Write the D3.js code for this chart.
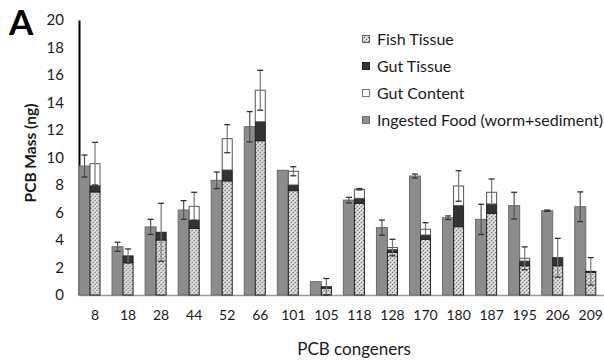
<!DOCTYPE html>
<html>
<head>
<meta charset="utf-8">
<script src="https://cdn.jsdelivr.net/npm/d3@7"></script>
<style>
  body { margin: 0; background: #fff; }
  svg { display: block; font-family: Lato, "Open Sans", sans-serif; }
</style>
</head>
<body>
<svg width="604" height="362"></svg>
<script>
// PCB mass per congener (ng)

var congeners = ["8", "18", "28", "44", "52", "66", "101", "105", "118", "128", "170", "180", "187", "195", "206", "209"];

// ingested food (worm+sediment) bar and its error
var food    = [9.38, 3.51, 4.95, 6.18, 8.34, 12.24, 9.07, 0.97, 6.9, 4.9, 8.65, 5.62, 5.5, 6.5, 6.13, 6.42];
var foodErr = [0.8, 0.33, 0.55, 0.68, 0.6, 1.1, 0, 0, 0.2, 0.55, 0.15, 0.13, 1.1, 0.97, 0.05, 1.08];

// stacked bar: fish tissue + gut tissue + gut content
var fishTissue = [7.5, 2.35, 4.0, 4.85, 8.3, 11.22, 7.59, 0.5, 6.67, 3.1, 4.05, 4.97, 5.94, 2.13, 2.13, 1.65];
var gutTissue  = [0.45, 0.49, 0.56, 0.6, 0.79, 1.38, 0.41, 0.1, 0.36, 0.2, 0.31, 1.53, 0.68, 0.34, 0.58, 0.07];
var gutContent = [1.6, 0, 0, 1.0, 2.28, 2.29, 1.0, 0, 0.66, 0.15, 0.42, 1.43, 0.85, 0.2, 0, 0];
var totalErr   = [1.55, 0.51, 2.11, 1.02, 1.02, 1.45, 0.33, 0.6, 0.05, 0.6, 0.48, 1.11, 0.97, 0.83, 1.41, 1.0];

var yTicks = [0, 2, 4, 6, 8, 10, 12, 14, 16, 18, 20];

var legendLabels = ["Fish Tissue", "Gut Tissue", "Gut Content", "Ingested Food (worm+sediment)"];

////////////////////////////// SETUP //////////////////////////////

var svg = d3.select("svg");

// speckled fill used for fish tissue
var defs = svg.append("defs");
var pat = defs.append("pattern")
    .attr("id", "fishPat")
    .attr("patternUnits", "userSpaceOnUse")
    .attr("width", 4).attr("height", 4);
pat.append("rect").attr("width", 4).attr("height", 4).attr("fill", "#c8c8c8");
pat.append("rect").attr("x", 0).attr("y", 0).attr("width", 1).attr("height", 1).attr("fill", "#6e6e6e");
pat.append("rect").attr("x", 2).attr("y", 2).attr("width", 1).attr("height", 1).attr("fill", "#6e6e6e");
pat.append("rect").attr("x", 2).attr("y", 0).attr("width", 1).attr("height", 1).attr("fill", "#f4f4f4");
pat.append("rect").attr("x", 0).attr("y", 2).attr("width", 1).attr("height", 1).attr("fill", "#f4f4f4");
pat.append("rect").attr("x", 1).attr("y", 1).attr("width", 1).attr("height", 1).attr("fill", "#e6e6e6");
pat.append("rect").attr("x", 3).attr("y", 3).attr("width", 1).attr("height", 1).attr("fill", "#e6e6e6");

var x = d3.scaleBand().domain(congeners).range([78.5, 607.3]).padding(0);
// third slot left empty, as in the original layout
var x1 = d3.scaleBand().domain(["food", "gut", "none"]).range([0, x.bandwidth()]);
var y = d3.scaleLinear().domain([0, 20]).range([295, 20]);

var rows = congeners.map(function(c, i) {
    return {
        name: c,
        food: food[i],
        foodErr: foodErr[i],
        fish: fishTissue[i],
        gutT: gutTissue[i],
        gutC: gutContent[i],
        err: totalErr[i]
    };
});

////////////////////////////// AXES //////////////////////////////

var yAxis = svg.append("g")
    .attr("transform", "translate(79,0)")
    .call(d3.axisLeft(y).tickValues(yTicks).tickSize(0).tickPadding(15));
yAxis.select(".domain").attr("stroke", "#000").attr("stroke-width", 2);
yAxis.selectAll("text").attr("font-size", 15).attr("fill", "#1a1a1a")
    .attr("font-family", "Lato, sans-serif");

var xAxis = svg.append("g")
    .attr("transform", "translate(0,295)")
    .call(d3.axisBottom(x).tickSize(0).tickPadding(15));
xAxis.select(".domain").attr("stroke", "#9a9a9a").attr("stroke-width", 1.5);
xAxis.selectAll("text").attr("font-size", 14).attr("fill", "#1a1a1a")
    .attr("font-family", "Lato, sans-serif");

////////////////////////////// BARS //////////////////////////////

var groups = svg.append("g").selectAll("g")
    .data(rows).enter().append("g")
    .attr("transform", function(d) { return "translate(" + x(d.name) + ",0)"; });

var bw = x1.bandwidth();

// ingested food
groups.append("rect")
    .attr("x", x1("food") + 0.5)
    .attr("width", bw)
    .attr("y", function(d) { return y(d.food); })
    .attr("height", function(d) { return y(0) - y(d.food); })
    .attr("fill", "#8c8c8c")
    .attr("stroke", "#6a6a6a")
    .attr("stroke-width", 1);

// stacked pieces
var stackKeys = [
    {key: "fish", fill: "url(#fishPat)", stroke: "#222"},
    {key: "gutT", fill: "#333", stroke: "#222"},
    {key: "gutC", fill: "#fff", stroke: "#555"}
];

groups.each(function(d) {
    var g = d3.select(this);
    var base = 0;
    stackKeys.forEach(function(s) {
        var v = d[s.key];
        if (v > 0) {
            g.append("rect")
                .attr("x", x1("gut") + 0.5)
                .attr("width", bw - 1)
                .attr("y", y(base + v))
                .attr("height", y(base) - y(base + v))
                .attr("fill", s.fill)
                .attr("stroke", s.stroke)
                .attr("stroke-width", 1);
        }
        base += v;
    });
});

// error bars
function errBar(g, cx, val, e, col) {
    if (e <= 0) return;
    g.append("line").attr("x1", cx).attr("x2", cx)
        .attr("y1", y(val + e)).attr("y2", y(Math.max(0, val - e)))
        .attr("stroke", col).attr("stroke-width", 1.2);
    [val + e, val - e].forEach(function(v) {
        if (v < 0) return;
        g.append("line").attr("x1", cx - 3).attr("x2", cx + 3)
            .attr("y1", y(v)).attr("y2", y(v))
            .attr("stroke", "#333").attr("stroke-width", 1.3);
    });
}

groups.each(function(d) {
    var g = d3.select(this);
    errBar(g, x1("food") + bw / 2 + 0.5, d.food, d.foodErr, "#555");
    errBar(g, x1("gut") + bw / 2, d.fish + d.gutT + d.gutC, d.err, "#777");
});

////////////////////////////// LABELS //////////////////////////////

svg.append("text")
    .attr("transform", "translate(31,153) rotate(-90)")
    .attr("text-anchor", "middle")
    .attr("dy", "0.35em")
    .attr("font-size", 15.5)
    .attr("font-weight", "bold")
    .attr("fill", "#1a1a1a")
    .text("PCB Mass (ng)");

svg.append("text")
    .attr("x", 354).attr("y", 355)
    .attr("text-anchor", "middle")
    .attr("font-size", 17)
    .attr("fill", "#1a1a1a")
    .text("PCB congeners");

svg.append("text")
    .attr("x", 9).attr("y", 35)
    .attr("font-size", 35)
    .attr("font-weight", "bold")
    .attr("fill", "#000")
    .text("A");

////////////////////////////// LEGEND //////////////////////////////

var legendStyle = [
    {fill: "url(#fishPat)", stroke: "#666"},
    {fill: "#333", stroke: "#222"},
    {fill: "#fff", stroke: "#777"},
    {fill: "#8c8c8c", stroke: "#6a6a6a"}
];

var legend = svg.append("g").selectAll("g")
    .data(legendLabels).enter().append("g")
    .attr("transform", function(d, i) { return "translate(362," + (39 + i * 27) + ")"; });

legend.append("rect")
    .attr("x", 0.5).attr("y", -3.5)
    .attr("width", 7).attr("height", 7)
    .attr("fill", function(d, i) { return legendStyle[i].fill; })
    .attr("stroke", function(d, i) { return legendStyle[i].stroke; });

legend.append("text")
    .attr("x", 15).attr("dy", "0.36em")
    .attr("font-size", 16)
    .attr("fill", "#1a1a1a")
    .text(function(d) { return d; });
</script>
</body>
</html>
